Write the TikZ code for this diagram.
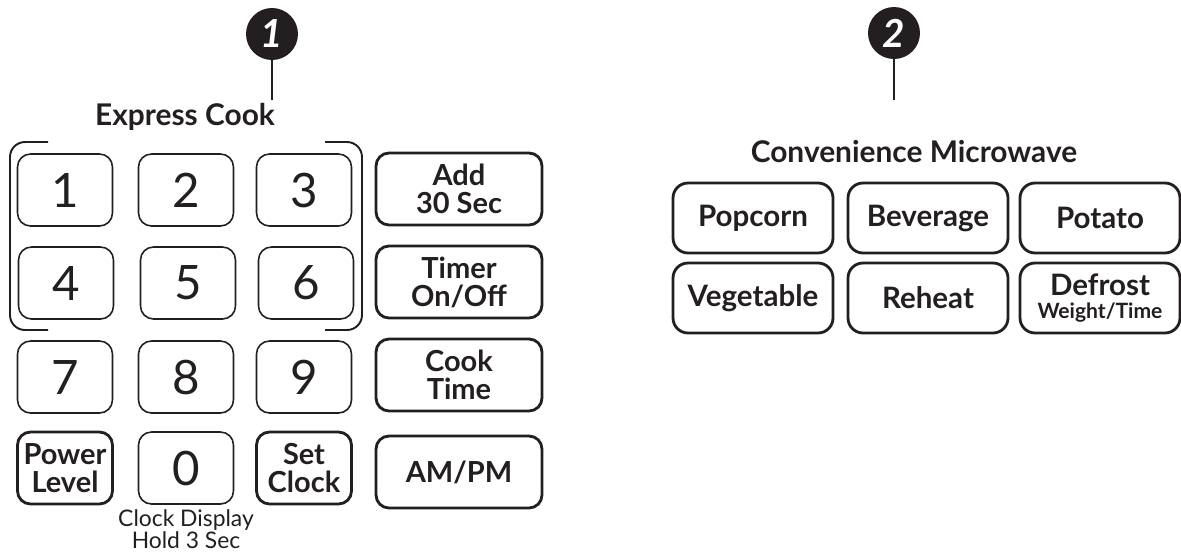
\documentclass[tikz,border=0pt]{standalone}
\usepackage{fontspec}
\setmainfont{Lato}
\usepackage{xcolor}
\usetikzlibrary{positioning}
\definecolor{ink}{HTML}{231F20}

\begin{document}
\begin{tikzpicture}[
    x=0.02cm, y=-0.02cm,
    color=ink,
    numkey/.style={rectangle, draw, rounded corners=0.26cm, line width=0.9pt, minimum width=1.9cm, minimum height=1.44cm, inner sep=0pt, font=\fontsize{27}{27}\selectfont},
    padkey/.style={rectangle, draw, rounded corners=0.26cm, line width=1.6pt, minimum width=1.9cm, minimum height=1.44cm, inner sep=0pt, align=center, font=\bfseries\fontsize{16.5}{16}\selectfont},
    sidekey/.style={padkey, minimum width=3.32cm},
    autokey/.style={padkey, rounded corners=0.3cm, minimum width=3.2cm, minimum height=1.4cm, font=\bfseries\fontsize{16.8}{13}\selectfont},
    badge/.style={circle, fill=ink, minimum size=1.04cm, inner sep=0pt, text=white, font=\bfseries\itshape\fontsize{22}{22}\selectfont},
    heading/.style={inner sep=0pt, font=\bfseries\fontsize{17}{17}\selectfont}
]
    \useasboundingbox (0,0) rectangle (1181,556);

    % express cook
    \node[badge] (badge1) at (272,34) {1};
    \coordinate (tip1) at (272,100);
    \node[heading, anchor=base] (expcook) at (185,125) {Express Cook};
    \draw[line width=1.1pt] (badge1) -- (tip1);

    \draw[line width=1.1pt, rounded corners=0.3cm] (48,142) -- (10,142) -- (10,330) -- (48,330);
    \draw[line width=1.1pt, rounded corners=0.3cm] (325,142) -- (362,142) -- (362,330) -- (325,330);

    \node[numkey] (one) at (65,190) {1};
    \node[numkey] (two) at (186,190) {2};
    \node[numkey] (three) at (304,190) {3};
    \node[numkey] (four) at (66,283) {4};
    \node[numkey] (five) at (188,283) {5};
    \node[numkey] (six) at (306,283) {6};
    \node[numkey] (seven) at (65,377) {7};
    \node[numkey] (eight) at (186,377) {8};
    \node[numkey] (nine) at (304,377) {9};
    \node[padkey] (power) at (65,468) {Power\\Level};
    \node[numkey] (zero) at (186,468) {0};
    \node[padkey] (setclock) at (304,468) {Set\\Clock};
    \node[inner sep=0pt, below=0.1cm of zero, align=center, font=\fontsize{13}{12.5}\selectfont] (clocknote) {Clock Display\\Hold 3 Sec};

    \node[sidekey] (add30) at (459,189) {Add\\30 Sec};
    \node[sidekey] (timer) at (459,282) {Timer\\On/Off};
    \node[sidekey] (cooktime) at (459,375) {Cook\\Time};
    \node[sidekey] (ampm) at (459,472) {AM/PM};

    % convenience microwave
    \node[badge] (badge2) at (894,33) {2};
    \coordinate (tip2) at (894,100);
    \node[heading, anchor=base] (convmw) at (914,162) {Convenience Microwave};
    \draw[line width=1.1pt] (badge2) -- (tip2);

    \node[autokey] (popcorn) at (753,218) {Popcorn};
    \node[autokey] (beverage) at (928,218) {Beverage};
    \node[autokey] (potato) at (1100,218) {Potato};
    \node[autokey] (vegetable) at (753,298) {Vegetable};
    \node[autokey] (reheat) at (928,298) {Reheat};
    \node[autokey] (defrost) at (1100,298) {Defrost\\{\fontsize{12}{12}\selectfont Weight/Time}};
\end{tikzpicture}
\end{document}
